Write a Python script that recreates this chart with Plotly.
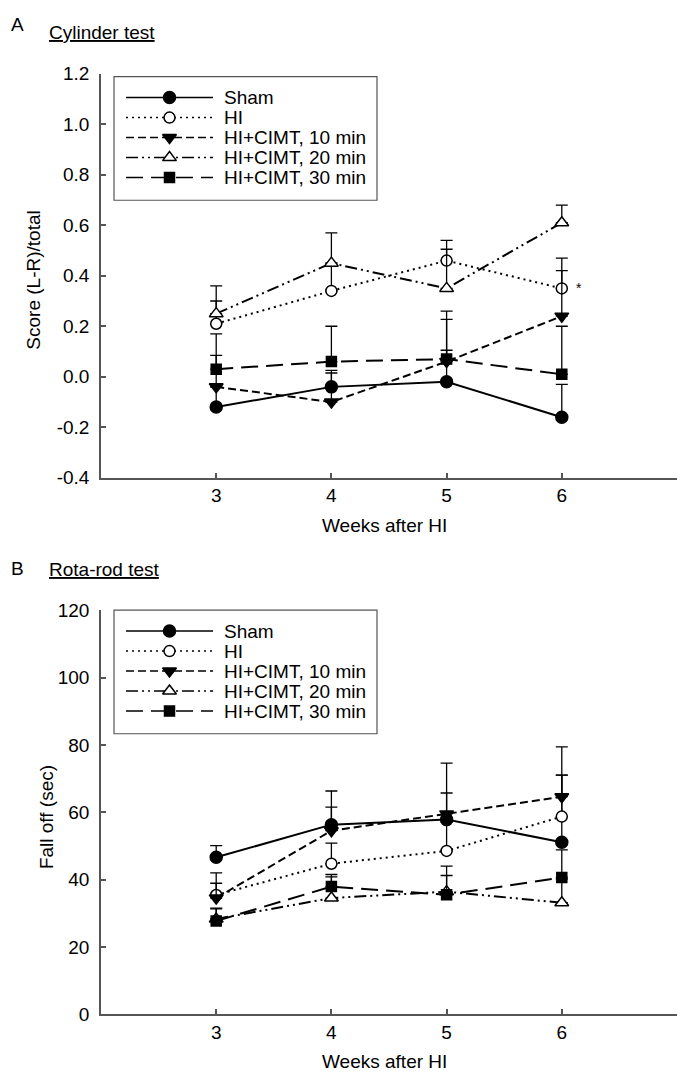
import plotly.graph_objects as go

# ---------------- data ----------------
weeks = [3, 4, 5, 6]
series_names = ["Sham", "HI", "HI+CIMT, 10 min", "HI+CIMT, 20 min", "HI+CIMT, 30 min"]

# Cylinder test: score (L-R)/total, mean and upper error
cyl_sham = [-0.12, -0.04, -0.02, -0.16]
cyl_sham_err = [0.08, 0.065, 0.125, 0.13]
cyl_hi = [0.21, 0.34, 0.46, 0.35]
cyl_hi_err = [0.09, 0.11, 0.08, 0.12]
cyl_c10 = [-0.04, -0.10, 0.06, 0.24]
cyl_c10_err = [0.125, 0.115, 0.20, 0.18]
cyl_c20 = [0.25, 0.45, 0.35, 0.61]
cyl_c20_err = [0.11, 0.12, 0.155, 0.07]
cyl_c30 = [0.03, 0.06, 0.07, 0.01]
cyl_c30_err = [0.14, 0.14, 0.157, 0.19]

# Rota-rod test: fall off (sec)
rot_sham = [46.6, 56.3, 57.8, 51.1]
rot_sham_err = [3.5, 5.2, 16.8, 19.9]
rot_hi = [35.4, 44.7, 48.5, 58.7]
rot_hi_err = [3.5, 6.1, 8.5, 12.3]
rot_c10 = [34.5, 54.5, 59.5, 64.6]
rot_c10_err = [7.5, 11.8, 6.2, 14.8]
rot_c20 = [28.3, 34.5, 36.4, 33.1]
rot_c20_err = [3.0, 6.3, 7.6, 7.0]
rot_c30 = [27.7, 37.9, 35.5, 40.6]
rot_c30_err = [3.8, 3.6, 5.7, 8.2]

cyl_ticks = [-0.4, -0.2, 0.0, 0.2, 0.4, 0.6, 0.8, 1.0, 1.2]
cyl_ticktext = ["-0.4", "-0.2", "0.0", "0.2", "0.4", "0.6", "0.8", "1.0", "1.2"]
rot_ticks = [0, 20, 40, 60, 80, 100, 120]
week_ticks = [3, 4, 5, 6]

# ---------------- styles ----------------
FONT = "Liberation Sans, Arial, sans-serif"
FS = 19
AX = "#555555"
TXT = dict(family=FONT, size=FS, color="black")
styles = [
    dict(dash="solid", symbol="circle", fill="black", size=12),
    dict(dash="2px,4px", symbol="circle", fill="white", size=11),
    dict(dash="8px,4px", symbol="triangle-down", fill="black", size=12),
    dict(dash="12px,4px,2px,4px,2px,4px", symbol="triangle-up", fill="white", size=12),
    dict(dash="17px,8px", symbol="square", fill="black", size=10),
]

cyl = [(cyl_sham, cyl_sham_err), (cyl_hi, cyl_hi_err), (cyl_c10, cyl_c10_err),
       (cyl_c20, cyl_c20_err), (cyl_c30, cyl_c30_err)]
rot = [(rot_sham, rot_sham_err), (rot_hi, rot_hi_err), (rot_c10, rot_c10_err),
       (rot_c20, rot_c20_err), (rot_c30, rot_c30_err)]

fig = go.Figure()

def add_series(data, xa, ya):
    for (vals, errs), st, name in zip(data, styles, series_names):
        fig.add_trace(go.Scatter(
            x=weeks, y=vals, xaxis=xa, yaxis=ya, name=name, showlegend=False,
            mode="lines+markers",
            line=dict(color="black", width=2, dash=st["dash"]),
            marker=dict(symbol=st["symbol"], size=st["size"], color=st["fill"],
                        line=dict(color="black", width=1.5)),
            error_y=dict(type="data", symmetric=False, array=errs,
                         arrayminus=[0] * len(errs), color="black",
                         thickness=1.3, width=6),
            cliponaxis=False,
        ))

add_series(cyl, "x", "y")
add_series(rot, "x2", "y2")

# ---------------- layout: whole figure is the paper; x3/y3 map pixels ----------------
W, H = 685, 1087
L, R = 101, 677

def xdom(l_px, r_px):
    return [l_px / W, r_px / W]

def ydom(top_px, bot_px):
    return [(H - bot_px) / H, (H - top_px) / H]

axis_common = dict(showline=True, linecolor=AX, linewidth=1.5, ticks="inside",
                   ticklen=5, tickwidth=1.5, tickcolor=AX, showgrid=False,
                   zeroline=False, tickfont=TXT)

fig.update_layout(
    width=W, height=H, paper_bgcolor="white", plot_bgcolor="rgba(0,0,0,0)",
    margin=dict(l=0, r=0, t=0, b=0, pad=0),
    showlegend=False,
    font=TXT,
    xaxis=dict(range=[2, 7], tickvals=week_ticks, anchor="y", domain=xdom(L, R), **axis_common),
    yaxis=dict(range=[-0.4, 1.2], tickvals=cyl_ticks, ticktext=cyl_ticktext, anchor="x",
               domain=ydom(65, 477), ticklabelstandoff=6, **axis_common),
    xaxis2=dict(range=[2, 7], tickvals=week_ticks, anchor="y2", domain=xdom(L, R), **axis_common),
    yaxis2=dict(range=[0, 120], tickvals=rot_ticks, anchor="x2",
                domain=ydom(612, 1024), ticklabelstandoff=6, **axis_common),
    xaxis3=dict(range=[0, W], domain=[0, 1], visible=False, anchor="y3", fixedrange=True),
    yaxis3=dict(range=[H, 0], domain=[0, 1], visible=False, anchor="x3", fixedrange=True),
)

# ---------------- custom legends ----------------
shapes = []
annotations = []
for box_top in (68, 612):
    shapes.append(dict(type="rect", xref="x3", yref="y3", x0=114, x1=377,
                       y0=box_top, y1=box_top + 126, line=dict(color=AX, width=1.2),
                       fillcolor="white", layer="below"))
    for i, (st, name) in enumerate(zip(styles, series_names)):
        ry = box_top + 21.3 + 20.4 * i
        fig.add_trace(go.Scatter(
            x=[126, 213], y=[ry, ry], xaxis="x3", yaxis="y3", mode="lines",
            line=dict(color="black", width=1.5, dash=st["dash"]),
            showlegend=False, hoverinfo="skip", cliponaxis=False))
        fig.add_trace(go.Scatter(
            x=[169.5], y=[ry], xaxis="x3", yaxis="y3", mode="markers",
            marker=dict(symbol=st["symbol"], size=st["size"], color=st["fill"],
                        line=dict(color="black", width=1.5)),
            showlegend=False, hoverinfo="skip", cliponaxis=False))
        annotations.append(dict(xref="x3", yref="y3", x=222, y=ry, text=name,
                                xanchor="left", yanchor="middle", showarrow=False,
                                font=TXT))

# ---------------- titles ----------------
for letter, title, ly, ty in (("A", "Cylinder test", 15, 23), ("B", "Rota-rod test", 569, 571)):
    annotations.append(dict(xref="x3", yref="y3", x=17, y=ly, text=letter,
                            xanchor="center", yanchor="middle", showarrow=False,
                            font=TXT))
    annotations.append(dict(xref="x3", yref="y3", x=47, y=ty, text="<u>" + title + "</u>",
                            xanchor="left", yanchor="middle", showarrow=False,
                            font=TXT))

for yy in (526, 1072):
    annotations.append(dict(xref="x3", yref="y3", x=384, y=yy, text="Weeks after HI",
                            xanchor="center", yanchor="middle", showarrow=False,
                            font=TXT))
annotations.append(dict(xref="x3", yref="y3", x=34, y=276, text="Score (L-R)/total",
                        textangle=-90, xanchor="center", yanchor="middle",
                        showarrow=False, font=TXT))
annotations.append(dict(xref="x3", yref="y3", x=46, y=823, text="Fall off (sec)",
                        textangle=-90, xanchor="center", yanchor="middle",
                        showarrow=False, font=TXT))
# significance mark next to HI at week 6
annotations.append(dict(xref="x", yref="y", x=weeks[-1] + 0.15, y=cyl_hi[-1], text="*",
                        xanchor="center", yanchor="middle", showarrow=False,
                        font=dict(family=FONT, size=14, color="black")))

fig.update_layout(shapes=shapes, annotations=annotations)
fig.write_html("out.html", config={"displayModeBar": False},
               post_script="document.body.style.margin='0';")
